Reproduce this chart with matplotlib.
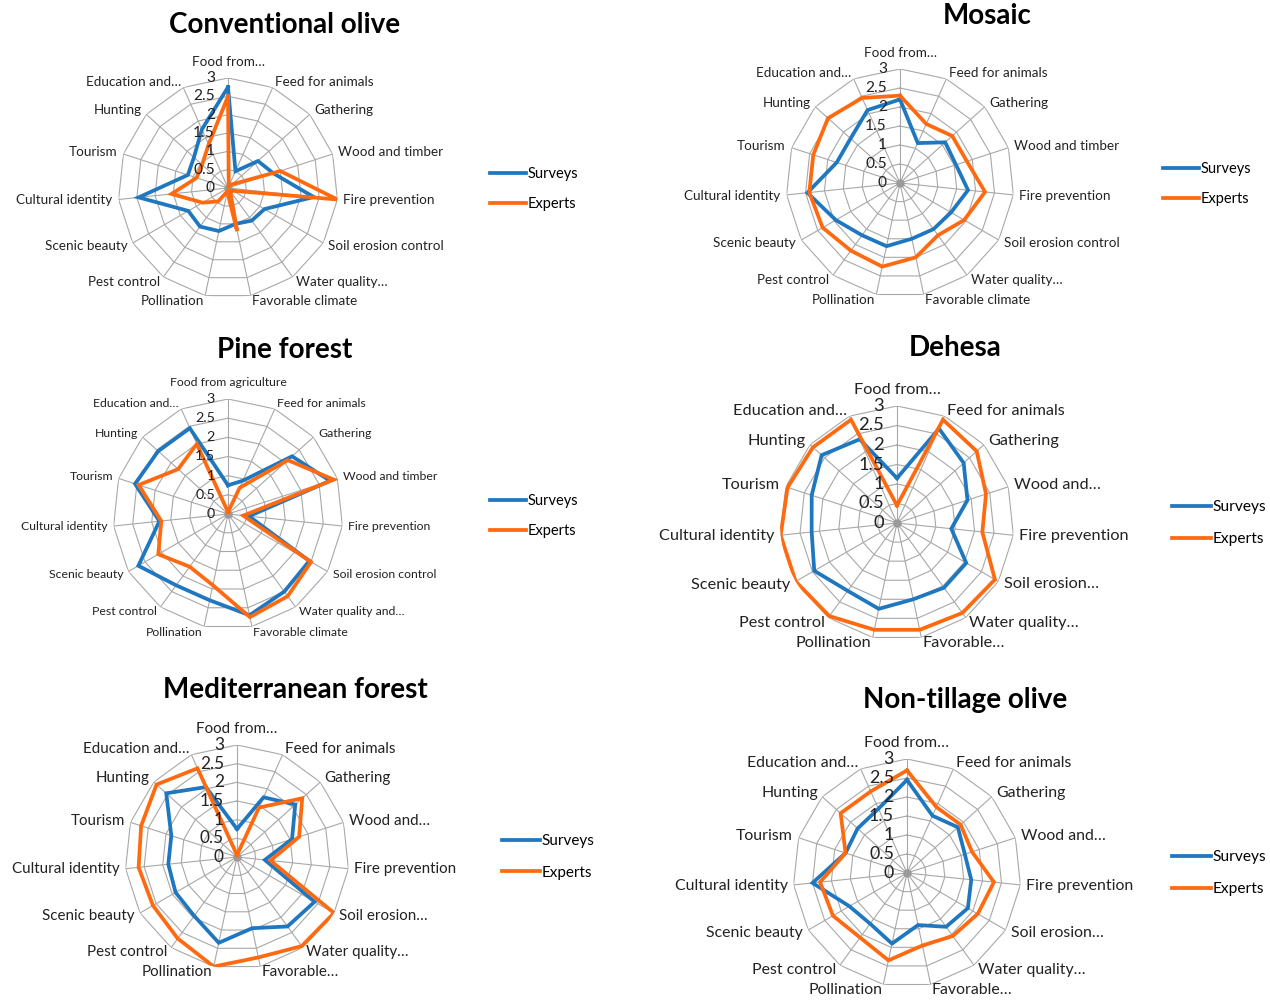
import numpy as np
import matplotlib
matplotlib.use("Agg")
import matplotlib.pyplot as plt

plt.rcParams['font.family'] = ['Lato', 'DejaVu Sans']

# Ecosystem services, clockwise from the top
services_short = ["Food from…", "Feed for animals", "Gathering", "Wood and timber",
                  "Fire prevention", "Soil erosion control", "Water quality…",
                  "Favorable climate", "Pollination", "Pest control", "Scenic beauty",
                  "Cultural identity", "Tourism", "Hunting", "Education and…"]
services_pine = ["Food from agriculture", "Feed for animals", "Gathering", "Wood and timber",
                 "Fire prevention", "Soil erosion control", "Water quality and…",
                 "Favorable climate", "Pollination", "Pest control", "Scenic beauty",
                 "Cultural identity", "Tourism", "Hunting", "Education and…"]
services_trunc = ["Food from…", "Feed for animals", "Gathering", "Wood and…",
                  "Fire prevention", "Soil erosion…", "Water quality…",
                  "Favorable…", "Pollination", "Pest control", "Scenic beauty",
                  "Cultural identity", "Tourism", "Hunting", "Education and…"]

scale_ticks = [0, 0.5, 1, 1.5, 2, 2.5, 3]
scale_labels = ["0", "0.5", "1", "1.5", "2", "2.5", "3"]
series_names = ["Surveys", "Experts"]

conv_surveys = [2.75, 0.5, 1.1, 1.3, 2.35, 1.15, 1.1, 1.0, 1.2, 1.3, 1.25, 2.45, 1.15, 1.25, 1.75]
conv_experts = [2.5, 0.05, 0.15, 1.5, 3.0, 0.15, 0.1, 1.2, 0.1, 0.45, 0.8, 1.55, 0.9, 0.95, 1.3]

mosaic_surveys = [2.2, 1.15, 1.6, 1.55, 1.8, 1.55, 1.5, 1.5, 1.7, 1.7, 1.95, 2.45, 1.75, 1.75, 2.1]
mosaic_experts = [2.3, 1.7, 1.85, 1.85, 2.25, 1.95, 1.7, 2.0, 2.25, 2.2, 2.35, 2.4, 2.4, 2.55, 2.45]

pine_surveys = [0.75, 0.95, 2.25, 2.8, 0.55, 2.45, 2.5, 2.7, 2.3, 2.3, 2.7, 1.8, 2.55, 2.45, 2.45]
pine_experts = [0.05, 0.75, 2.1, 2.9, 0.4, 2.5, 2.65, 2.75, 1.9, 1.7, 2.1, 1.75, 2.45, 1.75, 2.0]

dehesa_surveys = [1.15, 2.65, 2.3, 1.9, 1.4, 2.05, 2.05, 2.0, 2.25, 2.15, 2.45, 2.2, 2.3, 2.6, 2.35]
dehesa_experts = [0.45, 2.9, 2.75, 2.4, 2.2, 2.9, 2.85, 2.8, 2.8, 2.95, 3.0, 3.0, 2.95, 2.9, 2.9]

med_surveys = [0.75, 1.75, 2.1, 1.55, 0.75, 2.4, 2.3, 1.95, 2.35, 1.95, 1.9, 1.85, 1.85, 2.55, 2.05]
med_experts = [0.05, 1.45, 2.35, 1.75, 0.9, 3.0, 2.95, 2.75, 3.0, 2.7, 2.6, 2.65, 2.7, 2.9, 2.6]

nontill_surveys = [2.45, 1.65, 1.8, 1.6, 1.7, 1.85, 1.75, 1.4, 1.9, 1.65, 1.75, 2.5, 1.7, 1.75, 1.85]
nontill_experts = [2.7, 1.9, 1.9, 1.8, 2.3, 2.15, 2.05, 1.95, 2.35, 2.1, 2.25, 2.3, 1.7, 2.35, 2.35]

BLUE = "#1F77C0"
ORANGE = "#FF6A10"
GRID = "#A8A8A8"

W, H = 1270, 1001
fig = plt.figure(figsize=(W / 100, H / 100), dpi=100)


def radar(title, labels, surveys, experts, cx, cy, R, fs, title_xy, legend_xy, legend_fs):
    ax = fig.add_axes([(cx - R) / W, 1 - (cy + R) / H, 2 * R / W, 2 * R / H],
                      projection="polar")
    ax.set_theta_offset(np.pi / 2)
    ax.set_theta_direction(-1)
    ax.set_ylim(0, 3)
    ax.grid(False)
    ax.set_xticks([])
    ax.set_yticks([])
    ax.spines["polar"].set_visible(False)
    ax.patch.set_alpha(0)

    n = len(labels)
    theta = np.arange(n) * 2 * np.pi / n
    closed = np.append(theta, theta[0])

    # polygonal grid rings and spokes
    for v in scale_ticks[1:]:
        ax.plot(closed, [v] * (n + 1), color=GRID, lw=0.8, zorder=1)
    for t in theta:
        ax.plot([t, t], [0, 3], color=GRID, lw=0.8, zorder=1)
    ax.plot([0], [0], "o", color="#9A9A9A", ms=5, zorder=1)

    hs = ax.plot(closed, surveys + surveys[:1], color=BLUE, lw=2.7, zorder=3,
                 solid_joinstyle="miter", label=series_names[0])
    he = ax.plot(closed, experts + experts[:1], color=ORANGE, lw=2.7, zorder=4,
                 solid_joinstyle="miter", label=series_names[1])

    # value scale along the top spoke
    for v, s in zip(scale_ticks, scale_labels):
        ax.annotate(s, xy=(0, v), xytext=(-13, 0), textcoords="offset pixels",
                    ha="right", va="center", fontsize=fs + 1.5, color="#222222", zorder=5)

    # category labels around the outer ring
    for t, lab in zip(theta, labels):
        sx, sy = np.sin(t), np.cos(t)
        if abs(sx) < 0.05:
            ha = "center"
            off = (0, 16)
        else:
            ha = "left" if sx > 0 else "right"
            off = (6 * sx, 6 * sy)
        ax.annotate(lab, xy=(t, 3), xytext=off, textcoords="offset pixels",
                    ha=ha, va="center", fontsize=fs, color="#222222",
                    annotation_clip=False)

    fig.text(title_xy[0] / W, 1 - title_xy[1] / H, title, ha="center", va="center",
             fontsize=20, fontweight="bold", color="black")

    fig.legend(handles=[hs[0], he[0]], loc="center left",
               bbox_to_anchor=(legend_xy[0] / W, 1 - legend_xy[1] / H),
               bbox_transform=fig.transFigure, frameon=False, fontsize=legend_fs,
               borderpad=0, borderaxespad=0, handlelength=2.5, handletextpad=0.1,
               labelspacing=1.15)


radar("Conventional olive", services_short, conv_surveys, conv_experts,
      228, 188, 110, 9.7, (285, 25), (490, 189), 10.5)
radar("Mosaic", services_short, mosaic_surveys, mosaic_experts,
      900, 183, 114, 9.7, (987, 16), (1163, 184), 10.5)
radar("Pine forest", services_pine, pine_surveys, pine_experts,
      228, 514, 115, 8.8, (285, 350), (490, 516), 10.5)
radar("Dehesa", services_trunc, dehesa_surveys, dehesa_experts,
      897, 523, 117, 11.7, (955, 348), (1172, 523), 11.2)
radar("Mediterranean forest", services_trunc, med_surveys, med_experts,
      237, 857, 112, 10.9, (295, 690), (502, 857), 11)
radar("Non-tillage olive", services_trunc, nontill_surveys, nontill_experts,
      907, 873, 114, 11.4, (965, 700), (1172, 873), 11.2)

fig.savefig("out.png", dpi=100, facecolor="white")
